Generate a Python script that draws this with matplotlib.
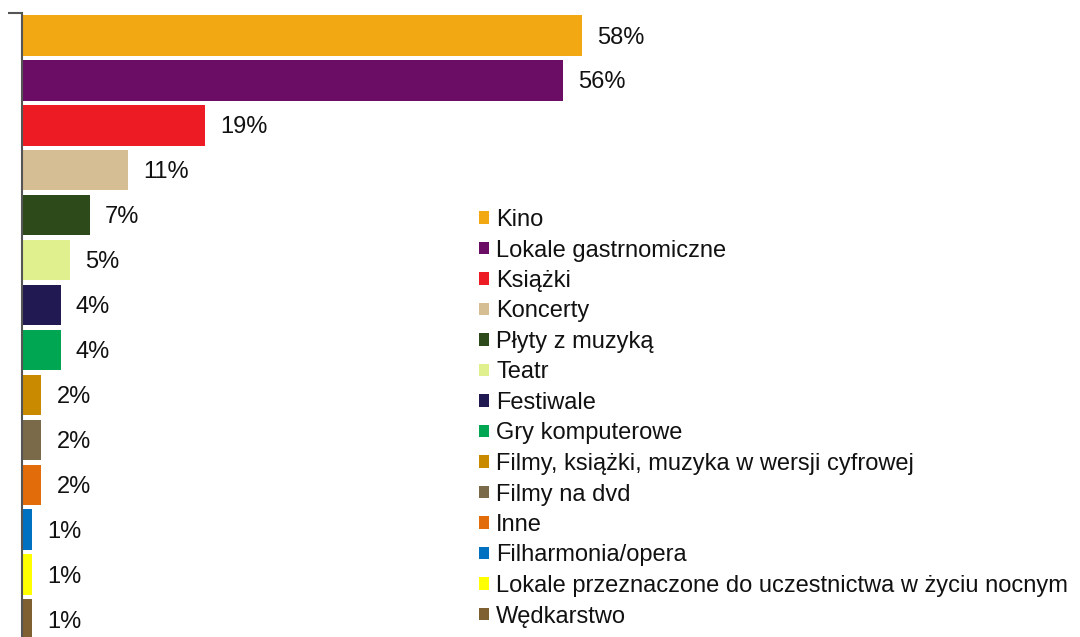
import matplotlib.pyplot as plt
from matplotlib.patches import Patch

plt.rcParams['font.family'] = ['Liberation Sans', 'DejaVu Sans']

# dane
categories = [
    "Kino",
    "Lokale gastrnomiczne",
    "Książki",
    "Koncerty",
    "Płyty z muzyką",
    "Teatr",
    "Festiwale",
    "Gry komputerowe",
    "Filmy, książki, muzyka w wersji cyfrowej",
    "Filmy na dvd",
    "Inne",
    "Filharmonia/opera",
    "Lokale przeznaczone do uczestnictwa w życiu nocnym",
    "Wędkarstwo",
]
values = [58, 56, 19, 11, 7, 5, 4, 4, 2, 2, 2, 1, 1, 1]
labels = ["58%", "56%", "19%", "11%", "7%", "5%", "4%", "4%",
          "2%", "2%", "2%", "1%", "1%", "1%"]
colors = ["#F1A813", "#6B0D65", "#ED1C24", "#D5BE93", "#2D4A1B", "#E0F08E",
          "#211A52", "#00A651", "#C98A00", "#7A6A4A", "#E36C0A", "#0070C0",
          "#FFFF00", "#7F6030"]

fig = plt.figure(figsize=(10.8, 6.37), dpi=100)
ax = fig.add_axes([22 / 1080, -5 / 637, 1058 / 1080, 629 / 637])

pos = list(range(len(values)))
ax.barh(pos, values, height=0.9, color=colors)
ax.set_xlim(0, 1058 / 9.655)
ax.set_ylim(len(values) - 0.5, -0.5)

for p, v, t in zip(pos, values, labels):
    ax.annotate(t, (v, p), xytext=(11, -1.5), textcoords="offset points",
                ha="left", va="center", fontsize=17, color="#111111")

for s in ["top", "right", "bottom"]:
    ax.spines[s].set_visible(False)
ax.spines["left"].set_color("#555555")
ax.spines["left"].set_linewidth(1.5)
ax.set_xticks([])
ax.set_yticks([-0.5])
ax.set_yticklabels([])
ax.tick_params(axis="y", length=10, width=1.5, color="#555555")

handles = [Patch(facecolor=c, edgecolor="none") for c in colors]
fig.legend(handles, categories, loc="upper left",
           bbox_to_anchor=(479 / 1080, 1 - 209 / 637),
           frameon=False, fontsize=17, borderpad=0, borderaxespad=0,
           handlelength=0.43, handleheight=0.43, handletextpad=0.3,
           labelspacing=0.36, labelcolor="#111111")

fig.savefig("out.png", dpi=100)
